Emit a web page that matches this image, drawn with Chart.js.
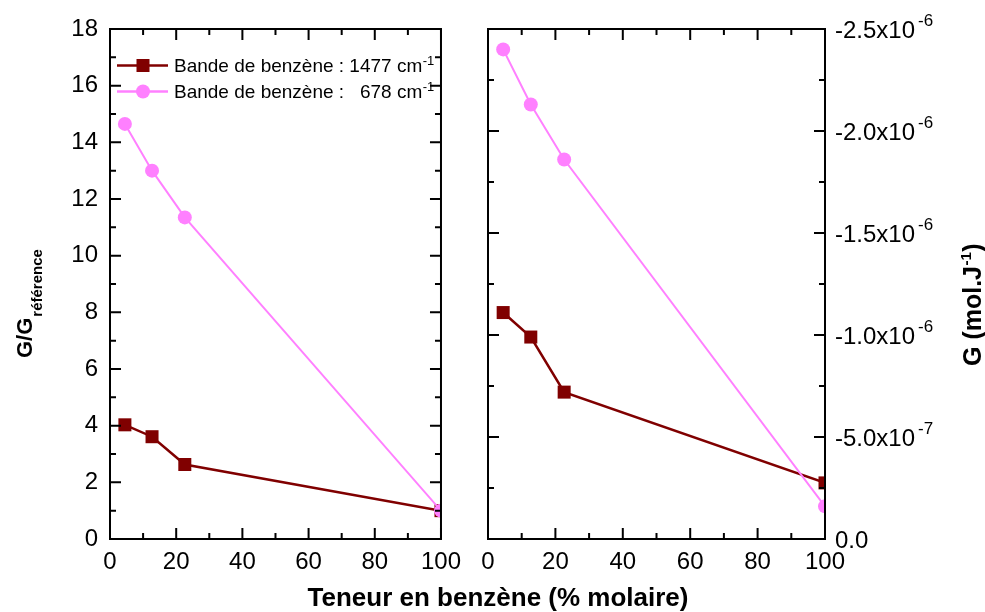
<!DOCTYPE html>
<html><head><meta charset="utf-8">
<script src="https://cdn.jsdelivr.net/npm/chart.js@4/dist/chart.umd.min.js"></script>
<style>
html,body{margin:0;padding:0;background:#fff;}
#wrap{position:relative;width:985px;height:612px;overflow:hidden;background:#fff;}
#c1{position:absolute;left:0;top:0;}
#c2{position:absolute;left:470px;top:0;}
#xt{position:absolute;left:0;width:996px;top:585px;text-align:center;font:bold 26px "Liberation Sans",Arial,sans-serif;line-height:25px;white-space:nowrap;color:#000;}
</style></head>
<body><div id="wrap">
<canvas id="c1" width="470" height="612" style="width:470px;height:612px"></canvas>
<canvas id="c2" width="515" height="612" style="width:515px;height:612px"></canvas>
<div id="xt">Teneur en benzène (% molaire)</div>
</div>
<script>
// ---- data ----
const composition = [4.5, 12.7, 22.6, 100];          // % molaire
const ratio1477 = [4.03, 3.61, 2.63, 1.0];            // G/G référence
const ratio678  = [14.65, 13.0, 11.35, 1.0];
const g1477 = [-1.11e-6, -0.99e-6, -0.72e-6, -0.275e-6]; // G (mol.J-1)
const g678  = [-2.40e-6, -2.13e-6, -1.86e-6, -0.16e-6];
const xTickValues = [0, 20, 40, 60, 80, 100];
const leftYTickValues = [0, 2, 4, 6, 8, 10, 12, 14, 16, 18];
const rightYTickValues = [0, -5e-7, -1e-6, -1.5e-6, -2e-6, -2.5e-6];
const rightYTickBases = ['0.0', '-5.0x10', '-1.0x10', '-1.5x10', '-2.0x10', '-2.5x10'];
const rightYTickExps  = ['', '-7', '-6', '-6', '-6', '-6'];
const seriesNames = ['Bande de benzène : 1477 cm', 'Bande de benzène :   678 cm'];
const seriesColors = ['#800000', '#ff80ff'];

const FONT = '"Liberation Sans", Arial, Helvetica, sans-serif';
Chart.defaults.font.family = FONT;
Chart.defaults.color = '#000';

function pts(xs, ys) { return xs.map((x, i) => ({x: x, y: ys[i]})); }

function frameTicks(chart, yId, xMinorStep, yMajor, yMinor) {
  const ctx = chart.ctx, a = chart.chartArea;
  const xs = chart.scales.x, ys = chart.scales[yId];
  ctx.save();
  ctx.strokeStyle = '#000';
  ctx.lineWidth = 2;
  ctx.beginPath();
  const M = 11, m = 6;
  for (let v = 0; v <= 100; v += xMinorStep) {
    const px = xs.getPixelForValue(v);
    const L = (v % 20 === 0) ? M : m;
    ctx.moveTo(px, a.bottom); ctx.lineTo(px, a.bottom - L);
    ctx.moveTo(px, a.top); ctx.lineTo(px, a.top + L);
  }
  yMajor.forEach(v => {
    const py = ys.getPixelForValue(v);
    ctx.moveTo(a.left, py); ctx.lineTo(a.left + M, py);
    ctx.moveTo(a.right, py); ctx.lineTo(a.right - M, py);
  });
  yMinor.forEach(v => {
    const py = ys.getPixelForValue(v);
    ctx.moveTo(a.left, py); ctx.lineTo(a.left + m, py);
    ctx.moveTo(a.right, py); ctx.lineTo(a.right - m, py);
  });
  ctx.stroke();
  ctx.strokeRect(a.left, a.top, a.right - a.left, a.bottom - a.top);
  ctx.restore();
}

function commonX() {
  return {
    type: 'linear', min: 0, max: 100,
    afterBuildTicks: s => { s.ticks = xTickValues.map(v => ({value: v})); },
    ticks: {font: {size: 24}, color: '#000', padding: 9, maxRotation: 0, autoSkip: false},
    grid: {display: false, drawTicks: false},
    border: {display: false},
    afterFit: s => { s.height = 73; }
  };
}

// ---- left panel ----
const leftPlugin = {
  id: 'leftDeco',
  afterDatasetsDraw(chart) {
    const minors = [];
    for (let v = 1; v < 18; v += 2) minors.push(v);
    frameTicks(chart, 'y', 10, leftYTickValues, minors);
  },
  afterDraw(chart) {
    const ctx = chart.ctx;
    ctx.save();
    // legend
    const rows = [65.5, 91.5];
    rows.forEach((ry, i) => {
      ctx.strokeStyle = seriesColors[i];
      ctx.fillStyle = seriesColors[i];
      ctx.lineWidth = 2.5;
      ctx.beginPath(); ctx.moveTo(117, ry); ctx.lineTo(168, ry); ctx.stroke();
      if (i === 0) { ctx.fillRect(143 - 6.5, ry - 6.5, 13, 13); }
      else { ctx.beginPath(); ctx.arc(143, ry, 7, 0, Math.PI * 2); ctx.fill(); }
      ctx.fillStyle = '#000';
      ctx.font = '19px ' + FONT;
      ctx.textBaseline = 'alphabetic';
      ctx.textAlign = 'left';
      const base = ry + 6.8;
      ctx.fillText(seriesNames[i], 174, base);
      const w = ctx.measureText(seriesNames[i]).width;
      ctx.font = '13px ' + FONT;
      ctx.fillText('-1', 174 + w + 0.5, base - 7.5);
    });
    // y title
    ctx.translate(32, 358);
    ctx.rotate(-Math.PI / 2);
    ctx.font = 'bold 22px ' + FONT;
    ctx.textAlign = 'left';
    ctx.fillText('G/G', 0, 0);
    const w1 = ctx.measureText('G/G').width;
    ctx.font = 'bold 15px ' + FONT;
    ctx.fillText('référence', w1 + 1, 10);
    ctx.restore();
  }
};

new Chart(document.getElementById('c1'), {
  type: 'line',
  data: {datasets: [
    {data: pts(composition, ratio1477), borderColor: seriesColors[0], backgroundColor: seriesColors[0],
     borderWidth: 2.5, pointStyle: 'rect', pointRadius: 9.2, pointBorderWidth: 0, clip: 0, order: 1},
    {data: pts(composition, ratio678), borderColor: seriesColors[1], backgroundColor: seriesColors[1],
     borderWidth: 2, pointStyle: 'circle', pointRadius: 7, pointBorderWidth: 0, clip: 0, order: 0}
  ]},
  options: {
    responsive: false, animation: false, devicePixelRatio: 1,
    layout: {padding: {top: 29, right: 26, left: 0, bottom: 0}},
    plugins: {legend: {display: false}, tooltip: {enabled: false}},
    scales: {
      x: commonX(),
      y: {
        type: 'linear', min: 0, max: 18,
        afterBuildTicks: s => { s.ticks = leftYTickValues.map(v => ({value: v})); },
        ticks: {font: {size: 24}, color: '#000', padding: 12},
        grid: {display: false, drawTicks: false},
        border: {display: false},
        afterFit: s => { s.width = 110; }
      }
    }
  },
  plugins: [leftPlugin]
});

// ---- right panel ----
const rightPlugin = {
  id: 'rightDeco',
  afterDatasetsDraw(chart) {
    const minors = [];
    for (let k = 1; k < 10; k += 2) minors.push(-k * 0.25e-6);
    frameTicks(chart, 'y', 10, rightYTickValues, minors);
  },
  afterDraw(chart) {
    const ctx = chart.ctx, a = chart.chartArea, ys = chart.scales.y;
    ctx.save();
    ctx.fillStyle = '#000';
    ctx.textAlign = 'left';
    ctx.textBaseline = 'alphabetic';
    rightYTickValues.forEach((v, i) => {
      const py = ys.getPixelForValue(v);
      const x0 = a.right + 10;
      ctx.font = '24px ' + FONT;
      ctx.fillText(rightYTickBases[i], x0, py + 8.6);
      const w = ctx.measureText(rightYTickBases[i]).width;
      if (rightYTickExps[i]) {
        ctx.font = '17px ' + FONT;
        ctx.fillText(rightYTickExps[i], x0 + w + 3, py - 3);
      }
    });
    // right title
    ctx.translate(981 - 470, 366);
    ctx.rotate(-Math.PI / 2);
    ctx.font = 'bold 25px ' + FONT;
    ctx.fillText('G (mol.J', 0, 0);
    let w = ctx.measureText('G (mol.J').width;
    ctx.font = 'bold 15px ' + FONT;
    ctx.fillText('-1', w + 0.5, -10);
    w += ctx.measureText('-1').width + 1;
    ctx.font = 'bold 25px ' + FONT;
    ctx.fillText(')', w, 0);
    ctx.restore();
  }
};

new Chart(document.getElementById('c2'), {
  type: 'line',
  data: {datasets: [
    {data: pts(composition, g1477), borderColor: seriesColors[0], backgroundColor: seriesColors[0],
     borderWidth: 2.5, pointStyle: 'rect', pointRadius: 9.2, pointBorderWidth: 0, clip: 0, order: 1},
    {data: pts(composition, g678), borderColor: seriesColors[1], backgroundColor: seriesColors[1],
     borderWidth: 2, pointStyle: 'circle', pointRadius: 7, pointBorderWidth: 0, clip: 0, order: 0}
  ]},
  options: {
    responsive: false, animation: false, devicePixelRatio: 1,
    layout: {padding: {top: 29, right: 0, left: 18, bottom: 0}},
    plugins: {legend: {display: false}, tooltip: {enabled: false}},
    scales: {
      x: commonX(),
      y: {
        type: 'linear', position: 'right', min: -2.5e-6, max: 0, reverse: true,
        ticks: {display: false},
        grid: {display: false, drawTicks: false},
        border: {display: false},
        afterFit: s => { s.width = 160; }
      }
    }
  },
  plugins: [rightPlugin]
});
</script>
</body></html>
